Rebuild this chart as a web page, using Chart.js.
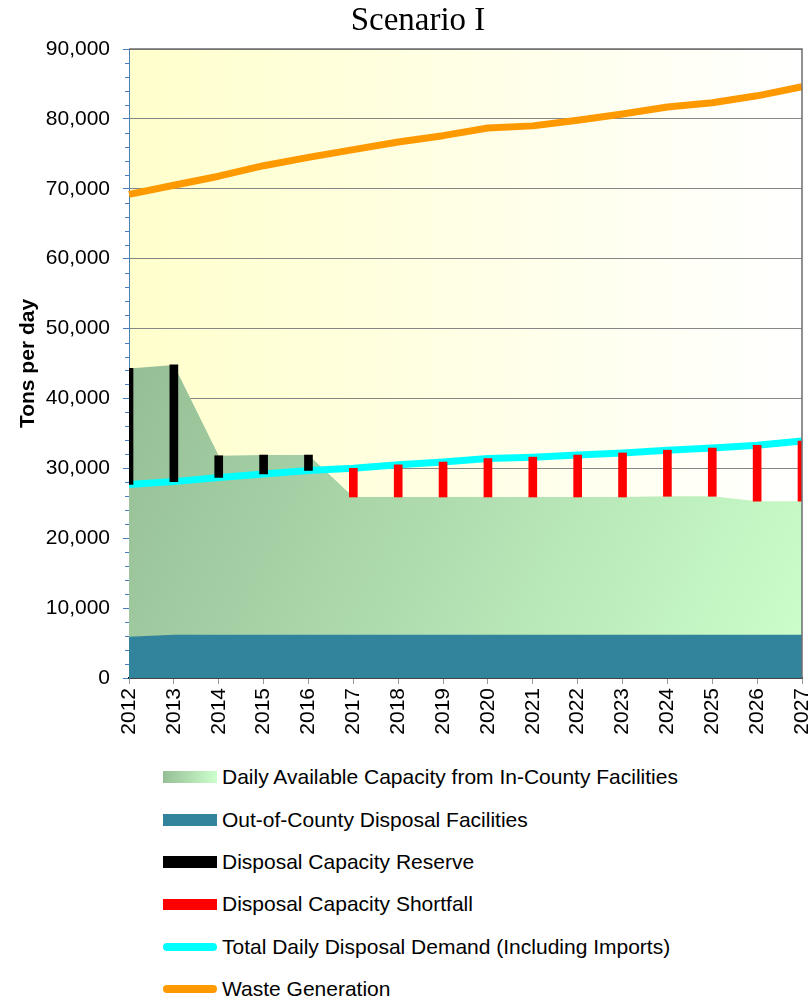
<!DOCTYPE html>
<html>
<head>
<meta charset="utf-8">
<script src="https://cdn.jsdelivr.net/npm/chart.js@4"></script>
<style>
  body { margin: 0; background: #fff; font-family: "Liberation Sans", Arial, sans-serif; }
  #wrap { position: relative; width: 812px; height: 1000px; }
  #chartBox { position: absolute; left: 0; top: 0; width: 812px; height: 748px; }
  #titulo { position: absolute; left: 318px; top: 3px; width: 200px; text-align: center;
            font-family: "Liberation Serif", "Times New Roman", serif; font-size: 33px; line-height: 32px; color: #000; }
  #legenda { position: absolute; left: 0; top: 756px; width: 812px; }
  .leg-row { height: 42.4px; display: flex; align-items: center; }
  .leg-sample { margin-left: 163px; width: 54px; margin-right: 5px; }
  .leg-txt { font-size: 21px; color: #000; white-space: nowrap; }
</style>
</head>
<body>
<div id="wrap">
  <div id="chartBox"><canvas id="cenarioChart"></canvas></div>
  <div id="titulo">Scenario I</div>
  <div id="legenda"></div>
</div>
<script>
// ── Dados (toneladas por dia) ─────────────────────────────────────
const years = ['2012','2013','2014','2015','2016','2017','2018','2019','2020','2021','2022','2023','2024','2025','2026','2027'];
const outOfCounty = [5900, 6200, 6200, 6200, 6200, 6200, 6200, 6200, 6200, 6200, 6200, 6200, 6200, 6200, 6200, 6200];
const inCounty    = [38400, 38600, 25600, 25700, 25700, 19700, 19700, 19700, 19700, 19700, 19700, 19700, 19800, 19800, 19100, 19100];
const demand      = [27700, 28100, 28700, 29200, 29700, 30000, 30500, 30900, 31400, 31600, 31900, 32200, 32600, 32900, 33300, 33900];
const wasteGen    = [69200, 70500, 71800, 73300, 74500, 75600, 76700, 77600, 78700, 79000, 79800, 80700, 81700, 82300, 83300, 84600];
const yTicks = { min: 0, max: 90000, step: 10000, minorStep: 2000 };

// capacidade total = fora do condado + no condado
const capacityTotal = years.map((_, i) => outOfCounty[i] + inCounty[i]);
// barras flutuantes entre capacidade e demanda
const reserve   = years.map((_, i) => capacityTotal[i] >= demand[i] ? [demand[i], capacityTotal[i]] : null);
const shortfall = years.map((_, i) => capacityTotal[i] <  demand[i] ? [capacityTotal[i], demand[i]] : null);

const AXIS_BLUE = '#4A7EBB';
const FONT = '"Liberation Sans", Arial, sans-serif';

// ── Gradientes ───────────────────────────────────────────────────
function greenFill(context) {
  const { chart } = context;
  const { ctx, chartArea, scales } = chart;
  if (!chartArea) return '#b0d8b0';
  const g = ctx.createLinearGradient(chartArea.left, scales.y.getPixelForValue(45000), chartArea.right, chartArea.bottom);
  g.addColorStop(0, '#96BE96');
  g.addColorStop(1, '#CCFFCC');
  return g;
}

const plotDeco = {
  id: 'plotDeco',
  beforeDraw(chart) {
    const { ctx, chartArea: a } = chart;
    const g = ctx.createLinearGradient(a.left, 0, a.right, 0);
    g.addColorStop(0, '#FFFFCC');
    g.addColorStop(1, '#FFFFFF');
    ctx.save();
    ctx.fillStyle = g;
    ctx.fillRect(a.left, a.top, a.right - a.left, a.bottom - a.top);
    ctx.restore();
  },
  afterDraw(chart) {
    const { ctx, chartArea: a, scales } = chart;
    ctx.save();
    // ticks menores do eixo y
    ctx.strokeStyle = AXIS_BLUE;
    ctx.lineWidth = 1;
    for (let v = yTicks.min; v <= yTicks.max; v += yTicks.minorStep) {
      if (v % yTicks.step === 0) continue;
      const py = Math.round(scales.y.getPixelForValue(v)) + 0.5;
      ctx.beginPath(); ctx.moveTo(a.left - 4, py); ctx.lineTo(a.left, py); ctx.stroke();
    }
    // borda direita e superior
    ctx.strokeStyle = '#6e6e6e';
    ctx.lineWidth = 1.5;
    ctx.beginPath();
    ctx.moveTo(a.left, a.top); ctx.lineTo(a.right, a.top); ctx.lineTo(a.right, a.bottom);
    ctx.stroke();
    ctx.restore();
  }
};

// ── Gráfico ─────────────────────────────────────────────────────
const cenarioChart = new Chart(document.getElementById('cenarioChart'), {
  type: 'bar',
  data: {
    labels: years,
    datasets: [
      { type: 'line', label: 'Daily Available Capacity from In-County Facilities', data: capacityTotal,
        backgroundColor: greenFill, borderWidth: 0, pointRadius: 0, fill: 'origin', tension: 0, order: 5 },
      { type: 'line', label: 'Out-of-County Disposal Facilities', data: outOfCounty,
        backgroundColor: '#31849B', borderColor: '#31849B', borderWidth: 0, pointRadius: 0, fill: 'origin', tension: 0, order: 4 },
      { type: 'bar', label: 'Disposal Capacity Reserve', data: reserve,
        backgroundColor: '#000000', barThickness: 8, grouped: false, order: 2 },
      { type: 'bar', label: 'Disposal Capacity Shortfall', data: shortfall,
        backgroundColor: '#FF0000', barThickness: 8, grouped: false, order: 2 },
      { type: 'line', label: 'Total Daily Disposal Demand (Including Imports)', data: demand,
        borderColor: '#00FFFF', borderWidth: 7, pointRadius: 0, fill: false, tension: 0, order: 3 },
      { type: 'line', label: 'Waste Generation', data: wasteGen,
        borderColor: '#FF9900', borderWidth: 7, pointRadius: 0, fill: false, tension: 0, order: 1, borderJoinStyle: 'round' },
    ]
  },
  options: {
    responsive: true,
    maintainAspectRatio: false,
    animation: false,
    layout: { padding: { top: 49, right: 10, left: 0, bottom: 0 } },
    plugins: {
      legend: { display: false },
      tooltip: { enabled: false }
    },
    scales: {
      x: {
        offset: false,
        grid: { offset: false, drawOnChartArea: false, drawTicks: true, tickLength: 6, tickColor: '#999999' },
        border: { color: '#000000', width: 1.5 },
        ticks: { color: '#000', minRotation: 90, maxRotation: 90, padding: 4, autoSkip: false,
                 font: { family: FONT, size: 21 } },
        afterFit: s => { s.height = 70; s.paddingLeft = 0; s.paddingRight = 0; }
      },
      y: {
        min: yTicks.min, max: yTicks.max,
        grid: { color: '#868686', tickColor: AXIS_BLUE, tickLength: 6 },
        border: { color: AXIS_BLUE, width: 1 },
        ticks: { stepSize: yTicks.step, color: '#000', padding: 13,
                 font: { family: FONT, size: 21 },
                 callback: v => v.toLocaleString('en-US') },
        title: { display: true, text: 'Tons per day', color: '#000', padding: { top: 16, bottom: 0 },
                 font: { family: FONT, size: 21, weight: 'bold' } },
        afterFit: s => { s.width = 129; }
      }
    }
  },
  plugins: [plotDeco]
});

// ── Legenda em HTML ──────────────────────────────────────────────
const legendStyles = [
  'height:12px;background:linear-gradient(to right,#96BE96,#CCFFCC)',
  'height:12px;background:#31849B',
  'height:12px;background:#000',
  'height:11px;background:#FF0000',
  'height:8px;border-radius:4px;background:#00FFFF',
  'height:8px;border-radius:4px;background:#FF9900',
];
document.getElementById('legenda').innerHTML = cenarioChart.data.datasets.map((ds, i) =>
  `<div class="leg-row"><div class="leg-sample" style="${legendStyles[i]}"></div><span class="leg-txt">${ds.label}</span></div>`
).join('');
</script>
</body>
</html>
